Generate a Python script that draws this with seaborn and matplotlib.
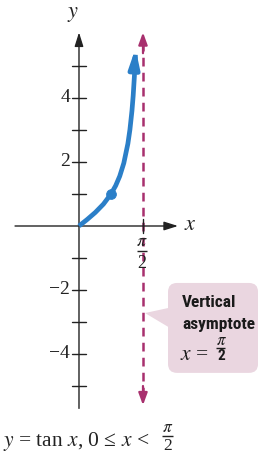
import numpy as np
import pandas as pd
import matplotlib
matplotlib.use("Agg")
import matplotlib.pyplot as plt
import seaborn as sns
from matplotlib.patches import FancyBboxPatch, Polygon
from matplotlib import font_manager as fm

sns.set_theme(style="white")
plt.rcParams['font.family'] = ['Liberation Serif', 'DejaVu Serif']
plt.rcParams['mathtext.fontset'] = 'stix'

# data
curve_x = [0.0, 0.2, 0.4, 0.6, 0.7854, 0.9, 1.0, 1.1, 1.2, 1.25, 1.3, 1.33, 1.36, 1.385]
curve_y = [0.0, 0.203, 0.423, 0.684, 1.0, 1.26, 1.557, 1.965, 2.572, 3.01, 3.60, 4.07, 4.68, 5.35]
point_x = [0.7854]
point_y = [1.0]
y_ticks = [-5, -4, -3, -2, -1, 1, 2, 3, 4, 5]
y_labels = ['', '−4', '', '−2', '', '', '2', '', '4', '']
asymptote_x = np.pi / 2

BLUE = '#2b7fc8'
MAG = '#a8306e'
DARK = '#222222'

# pick a condensed bold sans if available
names = {f.name for f in fm.fontManager.ttflist}
callout_kw = dict(family=['DejaVu Sans'], fontstretch='condensed', fontsize=12)
for cand in ['Liberation Sans Narrow', 'Roboto Condensed', 'Open Sans Condensed', 'Noto Sans Condensed']:
    if cand in names:
        callout_kw = dict(family=[cand], fontsize=12.5)
        break

fig = plt.figure(figsize=(2.58, 4.54), dpi=100)
ax = fig.add_axes([0, 0, 1, 1])
ax.set_xlim(-1.939, 4.394)
ax.set_ylim(-7.125, 7.0625)
PX = 1 / 40.74   # data units per pixel in x
PY = 1 / 32.0    # data units per pixel in y
X0 = 79.0        # pixel column of x = 0
Y0 = 226.0       # pixel row of y = 0


def px(c):
    return (c - X0) * PX


def py(r):
    return (Y0 - r) * PY


def frac(xc_px, bar_px, num_base_px, den_base_px, fs, bar_w, color=DARK, den_kw=None):
    """stacked pi over 2; positions given in pixel rows of the picture"""
    xc = px(xc_px)
    ax.text(xc, py(num_base_px), r'$\pi$', ha='center', va='baseline', fontsize=fs,
            color=color, zorder=6)
    ax.plot([px(xc_px - bar_w / 2), px(xc_px + bar_w / 2)], [py(bar_px), py(bar_px)],
            color=color, lw=1.0, solid_capstyle='butt', zorder=6)
    kw = dict(fontsize=fs)
    if den_kw:
        kw.update(den_kw)
    ax.text(xc, py(den_base_px), '2', ha='center', va='baseline', color=color, zorder=6, **kw)


df = pd.DataFrame({'x': curve_x, 'y': curve_y})
sns.lineplot(data=df, x='x', y='y', ax=ax, color=BLUE, lw=3.4, sort=False,
             solid_capstyle='butt', zorder=4)
ax.annotate('', xy=(curve_x[-1] + 0.003, 5.55), xytext=(curve_x[-2], curve_y[-2] + 0.3),
            arrowprops=dict(arrowstyle='-|>,head_length=0.9,head_width=0.25', color=BLUE,
                            lw=3.4, shrinkA=0, shrinkB=0), zorder=4)
sns.scatterplot(x=point_x, y=point_y, ax=ax, color=BLUE, s=50, edgecolor=BLUE, zorder=5)

# axes lines
ax.annotate('', xy=(2.43, 0), xytext=(-1.57, 0),
            arrowprops=dict(arrowstyle='-|>,head_length=0.7,head_width=0.22', color=DARK,
                            lw=1.0, shrinkA=0, shrinkB=0), zorder=3)
ax.annotate('', xy=(0, 6.05), xytext=(0, -5.7),
            arrowprops=dict(arrowstyle='-|>,head_length=0.7,head_width=0.22', color=DARK,
                            lw=1.0, shrinkA=0, shrinkB=0), zorder=3)

# asymptote
ax.plot([asymptote_x, asymptote_x], [-5.3, 5.65], color=MAG, lw=1.8, ls=(0, (3.5, 2.5)), zorder=2)
ax.annotate('', xy=(asymptote_x, 6.05), xytext=(asymptote_x, 5.4),
            arrowprops=dict(arrowstyle='-|>,head_length=0.6,head_width=0.22', color=MAG,
                            lw=1.6, shrinkA=0, shrinkB=0), zorder=2)
ax.annotate('', xy=(asymptote_x, -5.6), xytext=(asymptote_x, -5.0),
            arrowprops=dict(arrowstyle='-|>,head_length=0.6,head_width=0.22', color=MAG,
                            lw=1.6, shrinkA=0, shrinkB=0), zorder=2)

# ticks
for yt, lab in zip(y_ticks, y_labels):
    ax.plot([-0.16, 0.16], [yt, yt], color=DARK, lw=1.0, zorder=3)
    if lab:
        ax.text(-0.22, yt, lab, ha='right', va='center', fontsize=14, color=DARK)
ax.plot([asymptote_x, asymptote_x], [-0.22, 0.22], color=DARK, lw=1.0, zorder=3)
frac(142, 251, 246.5, 267.5, 13, 10)

ax.text(-0.15, 6.6, r'$y$', ha='center', va='center', fontsize=16, color=DARK)
ax.text(2.73, 0.0, r'$x$', ha='center', va='center', fontsize=16, color=DARK)

# callout
box = FancyBboxPatch((2.185, -4.59), 2.21, 2.81,
                     boxstyle='round,pad=0,rounding_size=0.22', mutation_aspect=40.74/32,
                     fc='#ead6e0', ec='none', zorder=1)
ax.add_patch(box)
ax.add_patch(Polygon([[1.62, -2.72], [2.2, -2.56], [2.2, -3.16]], closed=True,
                     fc='#ead6e0', ec='none', zorder=1))
ax.text(2.53, -2.38, 'Vertical', ha='left', va='center',
        fontweight='bold', color='#1a1a1a', zorder=6, **callout_kw)
ax.text(2.53, -3.07, 'asymptote', ha='left', va='center',
        fontweight='bold', color='#1a1a1a', zorder=6, **callout_kw)
ax.text(px(180), py(360), r'$x$ =', ha='left', va='baseline', fontsize=15.5,
        color='#1a1a1a', zorder=6)
den = dict(callout_kw)
den['fontsize'] = 11
den['fontweight'] = 'bold'
frac(221, 347.5, 345, 359.5, 12, 9, color='#1a1a1a', den_kw=den)

# caption
ax.text(px(3), py(446), r'$y$ = tan $x$, 0 ≤ $x$ <', ha='left', va='baseline',
        fontsize=15.5, color=DARK)
frac(168, 436, 432.5, 450.5, 12.5, 11)

ax.set_axis_off()
fig.savefig('out.png', dpi=100)
